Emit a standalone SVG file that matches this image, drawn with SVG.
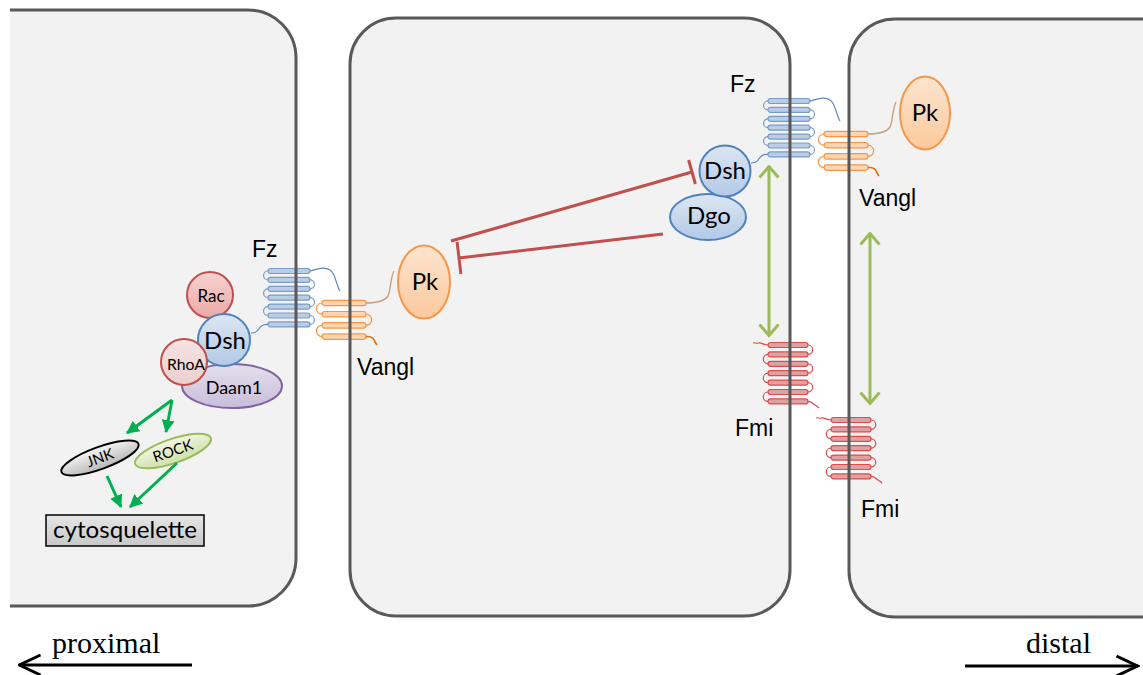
<svg xmlns="http://www.w3.org/2000/svg" xmlns:xlink="http://www.w3.org/1999/xlink" width="1143" height="675" viewBox="0 0 1143 675">
  <style>
    .cellfill { fill: #f2f2f2; stroke: none; }
    .membrane { fill: none; stroke: #595959; stroke-width: 3; }
    .lbl { font-family: "Liberation Sans", Arial, sans-serif; font-size: 23px; fill: #000; }
    .prot { font-family: Lato, "Open Sans", sans-serif; fill: #000; text-anchor: middle; }
    .dir { font-family: "Liberation Serif", "Times New Roman", serif; font-size: 30px; fill: #000; }
    .inhib { fill: none; stroke: #c0504d; stroke-width: 3; stroke-linecap: butt; }
    .act { fill: none; stroke: #00b050; stroke-width: 3; marker-end: url(#headG); }
    .link { fill: none; stroke: #9bbb59; stroke-width: 3; marker-start: url(#chevO); marker-end: url(#chevO); }
    .axis { fill: none; stroke: #000; stroke-width: 3; marker-end: url(#chevK); }
    .fzcap { fill: #b9cde5; stroke: #7a9cc8; stroke-width: 1.2; }
    .fzloop { fill: none; stroke: #7a9cc8; stroke-width: 1.2; }
    .fztail { fill: none; stroke: #5f86b8; stroke-width: 1.2; }
    .vgcap { fill: #fcd5b4; stroke: #f79646; stroke-width: 1.2; }
    .vgloop { fill: none; stroke: #f79646; stroke-width: 1.2; }
    .fmcap { fill: #dba3a3; stroke: #e04b4b; stroke-width: 1.2; }
    .fmloop { fill: none; stroke: #e04b4b; stroke-width: 1.2; }
  </style>
  <defs>
    <linearGradient id="gBlue" x1="0" y1="0" x2="0" y2="1">
      <stop offset="0" stop-color="#dce6f2"/><stop offset="1" stop-color="#b3c9e6"/>
    </linearGradient>
    <linearGradient id="gOrange" x1="0" y1="0" x2="0" y2="1">
      <stop offset="0" stop-color="#fde4cf"/><stop offset="1" stop-color="#fbc99c"/>
    </linearGradient>
    <linearGradient id="gRed" x1="0" y1="0" x2="0" y2="1">
      <stop offset="0" stop-color="#f7d2d0"/><stop offset="1" stop-color="#eba9a7"/>
    </linearGradient>
    <linearGradient id="gPink" x1="0" y1="0" x2="0" y2="1">
      <stop offset="0" stop-color="#f6e3e2"/><stop offset="1" stop-color="#eccfce"/>
    </linearGradient>
    <linearGradient id="gViolet" x1="0" y1="0" x2="0" y2="1">
      <stop offset="0" stop-color="#e4dfec"/><stop offset="1" stop-color="#c9bddb"/>
    </linearGradient>
    <linearGradient id="gGray" x1="0" y1="0" x2="0" y2="1">
      <stop offset="0" stop-color="#f5f5f5"/><stop offset="1" stop-color="#b8b8b8"/>
    </linearGradient>
    <linearGradient id="gGreen" x1="0" y1="0" x2="0" y2="1">
      <stop offset="0" stop-color="#f2f7e6"/><stop offset="1" stop-color="#cfe0a8"/>
    </linearGradient>
    <linearGradient id="gBox" x1="0" y1="0" x2="0" y2="1">
      <stop offset="0" stop-color="#e6e6e6"/><stop offset="1" stop-color="#c8c8c8"/>
    </linearGradient>

    <marker id="headG" markerUnits="userSpaceOnUse" viewBox="0 0 12 12" refX="11" refY="6" markerWidth="13" markerHeight="13" orient="auto">
      <path d="M0,0 L12,6 L0,12 Z" fill="#00b050"/>
    </marker>
    <marker id="chevO" markerUnits="userSpaceOnUse" viewBox="0 0 14 22" refX="12.5" refY="11" markerWidth="14" markerHeight="22" orient="auto-start-reverse">
      <path d="M1,1.5 L12,11 L1,20.5" fill="none" stroke="#9bbb59" stroke-width="3"/>
    </marker>
    <marker id="chevK" markerUnits="userSpaceOnUse" viewBox="0 0 24 24" refX="22.5" refY="12" markerWidth="24" markerHeight="24" orient="auto">
      <path d="M1,2 L22,12 L1,22" fill="none" stroke="#000" stroke-width="3"/>
    </marker>

    <!-- Frizzled: seven-pass receptor, origin = left end of first helix -->
    <g id="fz7">
      <path class="fzloop" d="M0,0 A4.45,4.45 0 0 0 0,8.9 M0,17.8 A4.45,4.45 0 0 0 0,26.7 M0,35.6 A4.45,4.45 0 0 0 0,44.5"/>
      <path class="fzloop" d="M42,8.9 A4.45,4.45 0 0 1 42,17.8 M42,26.7 A4.45,4.45 0 0 1 42,35.6 M42,44.5 A4.45,4.45 0 0 1 42,53.4"/>
      <rect class="fzcap" x="0" y="-2.5" width="42" height="5" rx="2.5"/>
      <rect class="fzcap" x="0" y="6.4" width="42" height="5" rx="2.5"/>
      <rect class="fzcap" x="0" y="15.3" width="42" height="5" rx="2.5"/>
      <rect class="fzcap" x="0" y="24.2" width="42" height="5" rx="2.5"/>
      <rect class="fzcap" x="0" y="33.1" width="42" height="5" rx="2.5"/>
      <rect class="fzcap" x="0" y="42" width="42" height="5" rx="2.5"/>
      <rect class="fzcap" x="0" y="50.9" width="42" height="5" rx="2.5"/>
      <path class="fztail" d="M42,0 C50,-2 56,-5 62,-1 C68,3 68,14 72,20"/>
      <path class="fztail" d="M0,53.4 C-6,53 -8,56 -10,59 C-12,62 -14,62 -17,62"/>
    </g>

    <!-- Van Gogh-like: four-pass protein -->
    <g id="vg4">
      <path class="vgloop" d="M0,0 A5.6,5.6 0 0 0 0,11.2 M0,22.4 A5.6,5.6 0 0 0 0,33.6"/>
      <path class="vgloop" d="M44,11.2 A5.6,5.6 0 0 1 44,22.4"/>
      <rect class="vgcap" x="0" y="-2.7" width="44" height="5.4" rx="2.7"/>
      <rect class="vgcap" x="0" y="8.5" width="44" height="5.4" rx="2.7"/>
      <rect class="vgcap" x="0" y="19.7" width="44" height="5.4" rx="2.7"/>
      <rect class="vgcap" x="0" y="30.9" width="44" height="5.4" rx="2.7"/>
      <path d="M44,0 C54,0 62,-1 66,-7 C69,-13 68,-24 72,-32" fill="none" stroke="#c8a27c" stroke-width="1.4"/>
      <path d="M44,33.6 C49,33 52,35 53,39 L55,42" fill="none" stroke="#e46c0a" stroke-width="1.6"/>
    </g>

    <!-- Flamingo: seven-pass cadherin -->
    <g id="fmi7">
      <path class="fmloop" d="M40,0 A4.7,4.7 0 0 1 40,9.4 M40,18.8 A4.7,4.7 0 0 1 40,28.2 M40,37.6 A4.7,4.7 0 0 1 40,47"/>
      <path class="fmloop" d="M0,9.4 A4.7,4.7 0 0 0 0,18.8 M0,28.2 A4.7,4.7 0 0 0 0,37.6 M0,47 A4.7,4.7 0 0 0 0,56.4"/>
      <rect class="fmcap" x="0" y="-2.5" width="40" height="5" rx="2.5"/>
      <rect class="fmcap" x="0" y="6.9" width="40" height="5" rx="2.5"/>
      <rect class="fmcap" x="0" y="16.3" width="40" height="5" rx="2.5"/>
      <rect class="fmcap" x="0" y="25.7" width="40" height="5" rx="2.5"/>
      <rect class="fmcap" x="0" y="35.1" width="40" height="5" rx="2.5"/>
      <rect class="fmcap" x="0" y="44.5" width="40" height="5" rx="2.5"/>
      <rect class="fmcap" x="0" y="53.9" width="40" height="5" rx="2.5"/>
      <path class="fmloop" d="M0,0 C-5,0 -7,-3 -10,-2 C-12,-1 -13,-3 -15,-2"/>
      <path class="fmloop" d="M40,56.4 C44,56.4 45,59 47,60 C49,61 50,62 51,63"/>
    </g>
  </defs>

  <rect x="0" y="0" width="1143" height="675" fill="#ffffff"/>

  <!-- cell interiors -->
  <g id="cells">
    <path class="cellfill" d="M10,10 H248 A48,48 0 0 1 296,58 V558 A48,48 0 0 1 248,606 H10 Z"/>
    <path class="cellfill" d="M396,18 H744 A46,46 0 0 1 790,64 V570 A46,46 0 0 1 744,616 H396 A46,46 0 0 1 350,570 V64 A46,46 0 0 1 396,18 Z"/>
    <path class="cellfill" d="M1143,19 H895 A46,46 0 0 0 849,65 V571 A46,46 0 0 0 895,617 H1143 Z"/>
  </g>

  <!-- transmembrane proteins -->
  <g id="fz-left"><use xlink:href="#fz7" href="#fz7" transform="translate(268,271)"/></g>
  <g id="vangl-left"><use xlink:href="#vg4" href="#vg4" transform="translate(322,303)"/></g>
  <g id="fz-right"><use xlink:href="#fz7" href="#fz7" transform="translate(768,101)"/></g>
  <g id="vangl-right"><use xlink:href="#vg4" href="#vg4" transform="translate(824,134)"/></g>
  <g id="fmi-left"><use xlink:href="#fmi7" href="#fmi7" transform="translate(768,345)"/></g>
  <g id="fmi-right"><use xlink:href="#fmi7" href="#fmi7" transform="translate(831,420)"/></g>

  <!-- plasma membranes -->
  <g id="membranes">
    <path class="membrane" d="M10,10 H248 A48,48 0 0 1 296,58 V558 A48,48 0 0 1 248,606 H10"/>
    <path class="membrane" d="M396,18 H744 A46,46 0 0 1 790,64 V570 A46,46 0 0 1 744,616 H396 A46,46 0 0 1 350,570 V64 A46,46 0 0 1 396,18 Z"/>
    <path class="membrane" d="M1143,19 H895 A46,46 0 0 0 849,65 V571 A46,46 0 0 0 895,617 H1143"/>
  </g>

  <!-- proximal complex -->
  <g id="daam1">
    <ellipse cx="232" cy="386" rx="50" ry="22" fill="url(#gViolet)" stroke="#8064a2" stroke-width="2"/>
    <text class="prot" x="234" y="394" font-size="18">Daam1</text>
  </g>
  <g id="rac">
    <circle cx="210" cy="295" r="23" fill="url(#gRed)" stroke="#c0504d" stroke-width="2"/>
    <text class="prot" x="211" y="302" font-size="17">Rac</text>
  </g>
  <g id="dsh-left">
    <circle cx="224" cy="340" r="26" fill="url(#gBlue)" stroke="#4f81bd" stroke-width="2"/>
    <text class="prot" x="225" y="349" font-size="24">Dsh</text>
  </g>
  <g id="rhoa">
    <circle cx="184" cy="362" r="23" fill="url(#gPink)" stroke="#c0504d" stroke-width="2"/>
    <text class="prot" x="186" y="370" font-size="16" textLength="38" lengthAdjust="spacingAndGlyphs">RhoA</text>
  </g>
  <g id="jnk">
    <ellipse cx="100" cy="458" rx="41" ry="11" transform="rotate(-20 100 458)" fill="url(#gGray)" stroke="#000" stroke-width="2"/>
    <text class="prot" x="100" y="463" font-size="15" transform="rotate(-20 100 458)">JNK</text>
  </g>
  <g id="rock">
    <ellipse cx="173" cy="451" rx="40" ry="12" transform="rotate(-19 173 451)" fill="url(#gGreen)" stroke="#9bbb59" stroke-width="2"/>
    <text class="prot" x="173" y="456" font-size="15" transform="rotate(-19 173 451)">ROCK</text>
  </g>
  <g id="cytosquelette">
    <rect x="46" y="515" width="158" height="31" fill="url(#gBox)" stroke="#000" stroke-width="1.5"/>
    <text class="prot" x="125" y="538" font-size="23" textLength="144" lengthAdjust="spacingAndGlyphs">cytosquelette</text>
  </g>

  <!-- Prickle and Dsh/Dgo -->
  <g id="pk-left">
    <ellipse cx="424" cy="282" rx="26" ry="36.5" fill="url(#gOrange)" stroke="#f79646" stroke-width="2"/>
    <text class="prot" x="425" y="290" font-size="24">Pk</text>
  </g>
  <g id="pk-right">
    <ellipse cx="925" cy="113" rx="25" ry="36.5" fill="url(#gOrange)" stroke="#f79646" stroke-width="2"/>
    <text class="prot" x="925" y="121" font-size="24">Pk</text>
  </g>
  <g id="dgo">
    <ellipse cx="708" cy="217" rx="38" ry="23" fill="url(#gBlue)" stroke="#4f81bd" stroke-width="2"/>
    <text class="prot" x="709" y="224" font-size="24">Dgo</text>
  </g>
  <g id="dsh-right">
    <circle cx="725" cy="171" r="25.5" fill="url(#gBlue)" stroke="#4f81bd" stroke-width="2"/>
    <text class="prot" x="725" y="179" font-size="24">Dsh</text>
  </g>

  <!-- labels -->
  <g id="labels">
    <text class="lbl" x="252" y="257">Fz</text>
    <text class="lbl" x="357" y="375">Vangl</text>
    <text class="lbl" x="730" y="92">Fz</text>
    <text class="lbl" x="859" y="206">Vangl</text>
    <text class="lbl" x="735" y="436">Fmi</text>
    <text class="lbl" x="861" y="517">Fmi</text>
  </g>

  <!-- connectors -->
  <g id="connectors">
    <path class="inhib" d="M451,241 L692,172 M688.6,160 L695.4,184"/>
    <path class="inhib" d="M663,234 L459,258 M457.1,242 L460.9,274"/>
    <path class="act" d="M172,400 L127,433"/>
    <path class="act" d="M172,400 L166,432"/>
    <path class="act" d="M107,476 L121,507"/>
    <path class="act" d="M177,463 L130,507"/>
    <path class="link" d="M769,166 L769,336"/>
    <path class="link" d="M870,233 L870,404"/>
  </g>

  <!-- tissue axis -->
  <g id="axis">
    <path class="axis" d="M192,665 L19,665"/>
    <text class="dir" x="52" y="653">proximal</text>
    <path class="axis" d="M965,666 L1138,666"/>
    <text class="dir" x="1026" y="653">distal</text>
  </g>
</svg>
